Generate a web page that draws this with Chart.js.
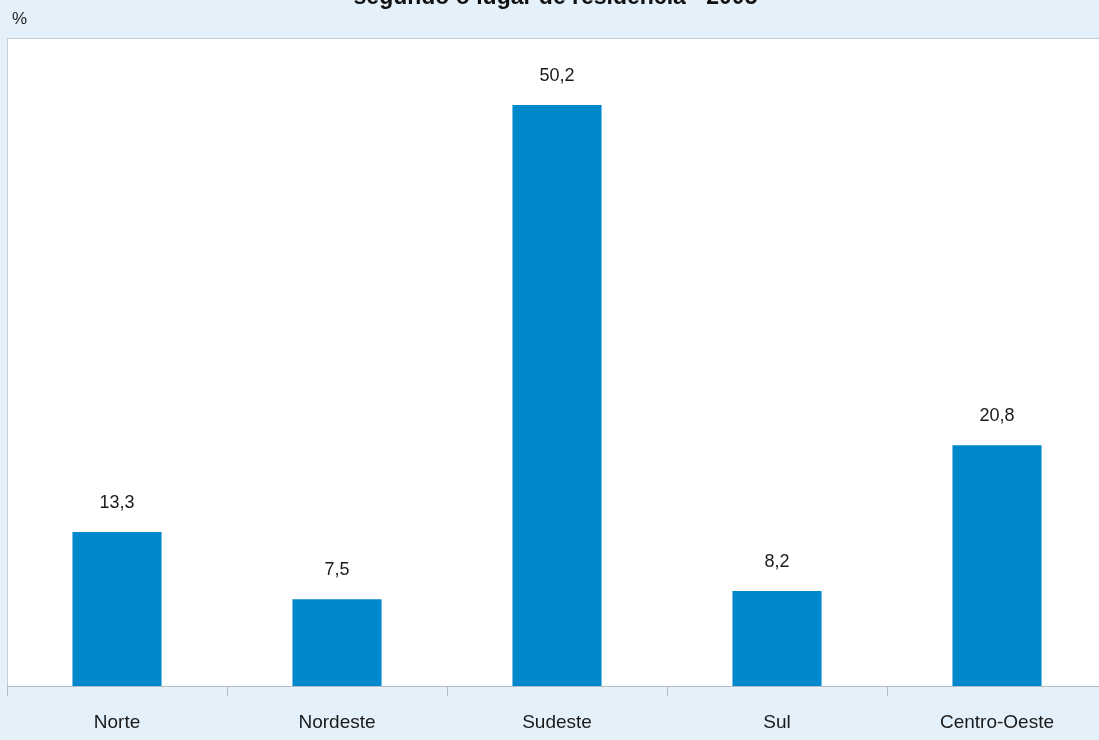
<!DOCTYPE html>
<html>
<head>
<meta charset="utf-8">
<script src="https://cdn.jsdelivr.net/npm/chart.js@4/dist/chart.umd.min.js"></script>
<style>
  html, body { margin: 0; padding: 0; background: #e4f1fb; }
  #wrap { position: relative; width: 1099px; height: 740px; overflow: hidden; }
  #chart { position: absolute; left: 0; top: 0; }
  #title {
    position: absolute; left: 0; width: 1111px; top: -17px; text-align: center;
    font: bold 23px "Liberation Sans Narrow", "Liberation Sans", Arial, sans-serif; color: #111;
  }
  #unit {
    position: absolute; left: 12px; top: 9px;
    font: 17px "Liberation Sans Narrow", "Liberation Sans", Arial, sans-serif; color: #222;
  }
</style>
</head>
<body>
<div id="wrap">
  <canvas id="chart" width="1107" height="740"></canvas>
  <div id="title">segundo o lugar de residência - 2005</div>
  <div id="unit">%</div>
</div>
<script>
// Data
const regioes = ["Norte", "Nordeste", "Sudeste", "Sul", "Centro-Oeste"];
const percentuais = [13.3, 7.5, 50.2, 8.2, 20.8];
const yMax = 56;

// fundo da area do grafico (branca, com borda cinza)
const plotBg = {
  id: "plotBg",
  beforeDraw(chart) {
    const { ctx, chartArea: a } = chart;
    ctx.save();
    ctx.fillStyle = "#ffffff";
    ctx.fillRect(a.left, a.top, a.right - a.left, a.bottom - a.top);
    ctx.strokeStyle = "#c9cdd1";
    ctx.lineWidth = 1;
    ctx.strokeRect(a.left + 0.5, a.top + 0.5, a.right - a.left + 2, a.bottom - a.top);
    ctx.restore();
  }
};

// rotulos de valor acima das barras
const valueLabels = {
  id: "valueLabels",
  afterDatasetsDraw(chart) {
    const { ctx } = chart;
    const meta = chart.getDatasetMeta(0);
    ctx.save();
    ctx.font = '18px "Liberation Sans", Arial, sans-serif';
    ctx.fillStyle = "#1a1a1a";
    ctx.textAlign = "center";
    ctx.textBaseline = "middle";
    meta.data.forEach((bar, i) => {
      const txt = percentuais[i].toFixed(1).replace(".", ",");
      ctx.fillText(txt, bar.x, bar.y - 29);
    });
    ctx.restore();
  }
};

new Chart(document.getElementById("chart"), {
  type: "bar",
  data: {
    labels: regioes,
    datasets: [{
      data: percentuais,
      backgroundColor: "#0088cc",
      borderWidth: 0,
      barPercentage: 0.405,
      categoryPercentage: 1
    }]
  },
  options: {
    responsive: false,
    animation: false,
    layout: { padding: { left: 7, top: 38, right: 0, bottom: 0 } },
    plugins: {
      legend: { display: false },
      tooltip: { enabled: false }
    },
    scales: {
      x: {
        offset: true,
        grid: {
          offset: true,
          drawOnChartArea: false,
          drawTicks: true,
          tickLength: 10,
          color: "#b8bcc0"
        },
        border: { color: "#b8bcc0", width: 1 },
        ticks: {
          color: "#1a1a1a",
          padding: 15,
          font: { size: 19, family: '"Liberation Sans", Arial, sans-serif' }
        },
        afterFit(scale) { scale.height = 54; }
      },
      y: {
        display: false,
        min: 0,
        max: yMax
      }
    }
  },
  plugins: [plotBg, valueLabels]
});
</script>
</body>
</html>
